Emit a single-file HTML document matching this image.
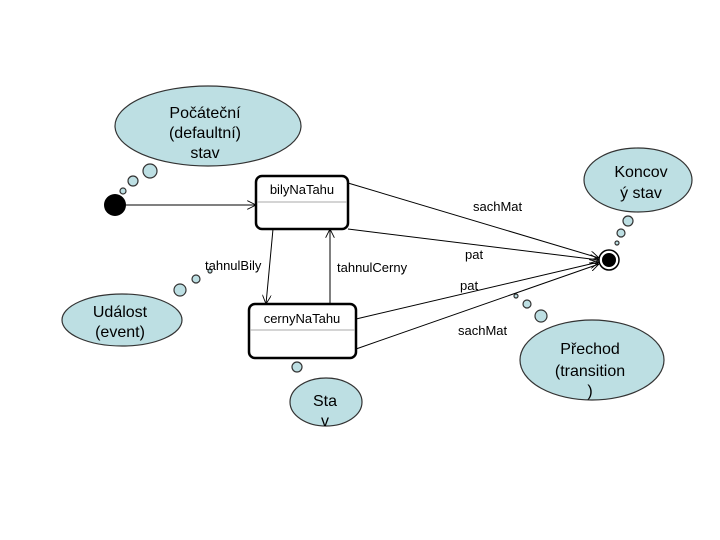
<!DOCTYPE html>
<html><head><meta charset="utf-8"><style>
html,body{margin:0;padding:0;background:#fff;}
svg{display:block;font-family:"Liberation Sans",sans-serif;}
</style></head><body>
<svg width="720" height="540" viewBox="0 0 720 540" xmlns="http://www.w3.org/2000/svg">
<defs>
<marker id="a" viewBox="0 0 10 10" refX="10" refY="5" markerWidth="9" markerHeight="9" orient="auto" markerUnits="userSpaceOnUse">
<path d="M0,0 L10,5 L0,10" fill="none" stroke="#000" stroke-width="1"/>
</marker>
</defs>
<g fill="#bddfe3" stroke="#333" stroke-width="1.2">
<!-- clouds -->
<ellipse cx="208" cy="126" rx="93" ry="40"/>
<ellipse cx="638" cy="180" rx="54" ry="32"/>
<ellipse cx="122" cy="320" rx="60" ry="26"/>
<ellipse cx="592" cy="360" rx="72" ry="40"/>
<ellipse cx="326" cy="402" rx="36" ry="24"/>
<!-- bubbles -->
<circle cx="150" cy="171" r="7"/><circle cx="133" cy="181" r="5"/><circle cx="123" cy="191" r="3"/>
<circle cx="628" cy="221" r="5"/><circle cx="621" cy="233" r="4"/><circle cx="617" cy="243" r="2"/>
<circle cx="180" cy="290" r="6"/><circle cx="196" cy="279" r="4"/><circle cx="210" cy="271" r="2"/>
<circle cx="297" cy="367" r="5"/><circle cx="287" cy="353" r="3.5"/><circle cx="280" cy="341" r="2"/>
<circle cx="541" cy="316" r="6"/><circle cx="527" cy="304" r="4"/><circle cx="516" cy="296" r="2"/>
</g>
<g font-size="16" fill="#000" text-anchor="middle">
<text x="205" y="118">Počáteční</text>
<text x="205" y="138">(defaultní)</text>
<text x="205" y="158">stav</text>
<text x="641" y="177">Koncov</text>
<text x="641" y="198">ý stav</text>
<text x="120" y="317">Událost</text>
<text x="120" y="337">(event)</text>
<text x="590" y="354">Přechod</text>
<text x="590" y="376">(transition</text>
<text x="590" y="396">)</text>
<text x="325" y="406">Sta</text>
<text x="325" y="426">v</text>
</g>
<!-- initial state -->
<circle cx="115" cy="205" r="11" fill="#000"/>
<line x1="126" y1="205" x2="256" y2="205" stroke="#000" marker-end="url(#a)"/>
<!-- states -->
<rect x="256" y="176" width="92" height="53" rx="6" fill="#fff" stroke="#000" stroke-width="2.5"/>
<line x1="257" y1="202" x2="347" y2="202" stroke="#aaa"/>
<rect x="249" y="304" width="107" height="54" rx="6" fill="#fff" stroke="#000" stroke-width="2.5"/>
<line x1="250" y1="330" x2="355" y2="330" stroke="#aaa"/>
<g font-size="13" fill="#000">
<text x="302" y="194" text-anchor="middle">bilyNaTahu</text>
<text x="302" y="323" text-anchor="middle">cernyNaTahu</text>
<text x="205" y="270">tahnulBily</text>
<text x="337" y="272">tahnulCerny</text>
<text x="473" y="211">sachMat</text>
<text x="465" y="259">pat</text>
<text x="460" y="290">pat</text>
<text x="458" y="335">sachMat</text>
</g>
<!-- transitions -->
<g stroke="#000" stroke-width="1" fill="none">
<line x1="273" y1="229" x2="266" y2="304" marker-end="url(#a)"/>
<line x1="330" y1="304" x2="330" y2="229" marker-end="url(#a)"/>
<line x1="348" y1="183" x2="599" y2="258" marker-end="url(#a)"/>
<line x1="348" y1="229" x2="599" y2="260" marker-end="url(#a)"/>
<line x1="356" y1="319" x2="599" y2="262" marker-end="url(#a)"/>
<line x1="356" y1="349" x2="599" y2="264" marker-end="url(#a)"/>
</g>
<!-- final state -->
<circle cx="609" cy="260" r="10" fill="#fff" stroke="#000" stroke-width="1.5"/>
<circle cx="609" cy="260" r="7" fill="#000"/>
</svg>
</body></html>
